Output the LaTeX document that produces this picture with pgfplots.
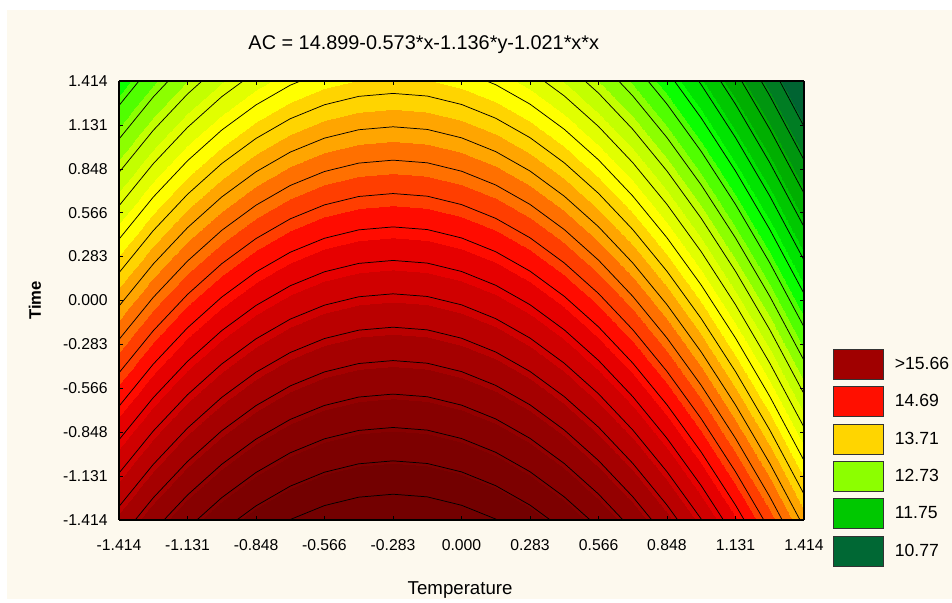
\documentclass[border=0pt]{standalone}
\usepackage{pgfplots}
\pgfplotsset{compat=1.18}
\usepackage{pgfplotstable}
\usepackage{fontspec}
\setmainfont{Liberation Sans}

\definecolor{cream}{RGB}{253,249,238}
\definecolor{lg1}{RGB}{160,0,0}
\definecolor{lg2}{RGB}{255,15,0}
\definecolor{lg3}{RGB}{255,213,0}
\definecolor{lg4}{RGB}{140,255,0}
\definecolor{lg5}{RGB}{0,200,0}
\definecolor{lg6}{RGB}{0,104,52}

\pgfplotstableread{
x y z
-1.414 -1.414 15.2741
-1.2726 -1.414 15.5810
-1.1312 -1.414 15.8470
-0.9898 -1.414 16.0722
-0.8484 -1.414 16.2565
-0.707 -1.414 16.4001
-0.5656 -1.414 16.5028
-0.4242 -1.414 16.5646
-0.2828 -1.414 16.5857
-0.1414 -1.414 16.5659
0 -1.414 16.5053
0.1414 -1.414 16.4039
0.2828 -1.414 16.2616
0.4242 -1.414 16.0785
0.5656 -1.414 15.8546
0.707 -1.414 15.5898
0.8484 -1.414 15.2843
0.9898 -1.414 14.9379
1.1312 -1.414 14.5506
1.2726 -1.414 14.1226
1.414 -1.414 13.6537
-1.414 0 13.6678
-1.2726 0 13.9747
-1.1312 0 14.2407
-0.9898 0 14.4659
-0.8484 0 14.6502
-0.707 0 14.7938
-0.5656 0 14.8965
-0.4242 0 14.9583
-0.2828 0 14.9794
-0.1414 0 14.9596
0 0 14.8990
0.1414 0 14.7976
0.2828 0 14.6553
0.4242 0 14.4722
0.5656 0 14.2483
0.707 0 13.9835
0.8484 0 13.6780
0.9898 0 13.3316
1.1312 0 12.9443
1.2726 0 12.5163
1.414 0 12.0474
-1.414 1.414 12.0615
-1.2726 1.414 12.3684
-1.1312 1.414 12.6344
-0.9898 1.414 12.8596
-0.8484 1.414 13.0439
-0.707 1.414 13.1875
-0.5656 1.414 13.2902
-0.4242 1.414 13.3520
-0.2828 1.414 13.3731
-0.1414 1.414 13.3533
0 1.414 13.2927
0.1414 1.414 13.1913
0.2828 1.414 13.0490
0.4242 1.414 12.8659
0.5656 1.414 12.6420
0.707 1.414 12.3772
0.8484 1.414 12.0717
0.9898 1.414 11.7253
1.1312 1.414 11.3380
1.2726 1.414 10.9100
1.414 1.414 10.4411
}\surfdata

\pgfplotstableread{
x l0 l1 l2 l3 l4 l5 l6 l7 l8 l9 l10 l11 l12 l13 l14 l15 l16 l17 l18 l19 l20 l21 l22 l23
-1.414 2.547 2.332 2.117 1.901 1.686 1.471 1.256 1.040 0.825 0.610 0.395 0.179 -0.036 -0.251 -0.466 -0.681 -0.897 -1.112 -1.327 -1.542 -1.758 -1.973 -2.188 -2.403
-1.2726 2.818 2.603 2.388 2.172 1.957 1.742 1.527 1.311 1.096 0.881 0.666 0.450 0.235 0.020 -0.195 -0.410 -0.626 -0.841 -1.056 -1.271 -1.487 -1.702 -1.917 -2.132
-1.1312 3.052 2.837 2.622 2.406 2.191 1.976 1.761 1.545 1.330 1.115 0.900 0.684 0.469 0.254 0.039 -0.176 -0.392 -0.607 -0.822 -1.037 -1.253 -1.468 -1.683 -1.898
-0.9898 3.250 3.035 2.820 2.604 2.389 2.174 1.959 1.743 1.528 1.313 1.098 0.882 0.667 0.452 0.237 0.022 -0.194 -0.409 -0.624 -0.839 -1.055 -1.270 -1.485 -1.700
-0.8484 3.412 3.197 2.982 2.766 2.551 2.336 2.121 1.905 1.690 1.475 1.260 1.044 0.829 0.614 0.399 0.184 -0.032 -0.247 -0.462 -0.677 -0.893 -1.108 -1.323 -1.538
-0.707 3.539 3.324 3.109 2.893 2.678 2.463 2.248 2.032 1.817 1.602 1.387 1.171 0.956 0.741 0.526 0.311 0.095 -0.120 -0.335 -0.550 -0.766 -0.981 -1.196 -1.411
-0.5656 3.629 3.414 3.199 2.983 2.768 2.553 2.338 2.122 1.907 1.692 1.477 1.261 1.046 0.831 0.616 0.401 0.185 -0.030 -0.245 -0.460 -0.676 -0.891 -1.106 -1.321
-0.4242 3.683 3.468 3.253 3.037 2.822 2.607 2.392 2.176 1.961 1.746 1.531 1.315 1.100 0.885 0.670 0.455 0.239 0.024 -0.191 -0.406 -0.622 -0.837 -1.052 -1.267
-0.2828 3.702 3.487 3.272 3.056 2.841 2.626 2.411 2.195 1.980 1.765 1.550 1.334 1.119 0.904 0.689 0.474 0.258 0.043 -0.172 -0.387 -0.603 -0.818 -1.033 -1.248
-0.1414 3.685 3.470 3.255 3.039 2.824 2.609 2.394 2.178 1.963 1.748 1.533 1.317 1.102 0.887 0.672 0.457 0.241 0.026 -0.189 -0.404 -0.620 -0.835 -1.050 -1.265
0 3.631 3.416 3.201 2.985 2.770 2.555 2.340 2.124 1.909 1.694 1.479 1.263 1.048 0.833 0.618 0.403 0.187 -0.028 -0.243 -0.458 -0.674 -0.889 -1.104 -1.319
0.1414 3.542 3.327 3.112 2.896 2.681 2.466 2.251 2.035 1.820 1.605 1.390 1.174 0.959 0.744 0.529 0.314 0.098 -0.117 -0.332 -0.547 -0.763 -0.978 -1.193 -1.408
0.2828 3.417 3.202 2.987 2.771 2.556 2.341 2.126 1.910 1.695 1.480 1.265 1.049 0.834 0.619 0.404 0.189 -0.027 -0.242 -0.457 -0.672 -0.888 -1.103 -1.318 -1.533
0.4242 3.255 3.040 2.825 2.609 2.394 2.179 1.964 1.748 1.533 1.318 1.103 0.887 0.672 0.457 0.242 0.027 -0.189 -0.404 -0.619 -0.834 -1.050 -1.265 -1.480 -1.695
0.5656 3.058 2.843 2.628 2.412 2.197 1.982 1.767 1.551 1.336 1.121 0.906 0.690 0.475 0.260 0.045 -0.170 -0.386 -0.601 -0.816 -1.031 -1.247 -1.462 -1.677 -1.892
0.707 2.825 2.610 2.395 2.179 1.964 1.749 1.534 1.318 1.103 0.888 0.673 0.457 0.242 0.027 -0.188 -0.403 -0.619 -0.834 -1.049 -1.264 -1.480 -1.695 -1.910 -2.125
0.8484 2.556 2.341 2.126 1.910 1.695 1.480 1.265 1.049 0.834 0.619 0.404 0.188 -0.027 -0.242 -0.457 -0.672 -0.888 -1.103 -1.318 -1.533 -1.749 -1.964 -2.179 -2.394
0.9898 2.251 2.036 1.821 1.605 1.390 1.175 0.960 0.744 0.529 0.314 0.099 -0.117 -0.332 -0.547 -0.762 -0.977 -1.193 -1.408 -1.623 -1.838 -2.054 -2.269 -2.484 -2.699
1.1312 1.910 1.695 1.480 1.264 1.049 0.834 0.619 0.403 0.188 -0.027 -0.242 -0.458 -0.673 -0.888 -1.103 -1.318 -1.534 -1.749 -1.964 -2.179 -2.395 -2.610 -2.825 -3.040
1.2726 1.534 1.319 1.104 0.888 0.673 0.458 0.243 0.027 -0.188 -0.403 -0.618 -0.834 -1.049 -1.264 -1.479 -1.694 -1.910 -2.125 -2.340 -2.555 -2.771 -2.986 -3.201 -3.416
1.414 1.121 0.906 0.691 0.475 0.260 0.045 -0.170 -0.386 -0.601 -0.816 -1.031 -1.247 -1.462 -1.677 -1.892 -2.107 -2.323 -2.538 -2.753 -2.968 -3.184 -3.399 -3.614 -3.829
}\contourdata

\begin{document}
\begin{tikzpicture}
\fill[white] (0,0) rectangle (714pt,449.25pt);
\fill[cream] (5.25pt,0) rectangle (714pt,441.75pt);
\begin{axis}[
  at={(89.25pt,59.25pt)}, anchor=south west,
  scale only axis, width=513.75pt, height=329.25pt,
  view={0}{90},
  xmin=-1.414, xmax=1.414, ymin=-1.414, ymax=1.414,
  xtick={-1.414,-1.131,-0.848,-0.566,-0.283,0,0.283,0.566,0.848,1.131,1.414},
  xticklabels={-1.414,-1.131,-0.848,-0.566,-0.283,0.000,0.283,0.566,0.848,1.131,1.414},
  ytick={-1.414,-1.131,-0.848,-0.566,-0.283,0,0.283,0.566,0.848,1.131,1.414},
  yticklabels={-1.414,-1.131,-0.848,-0.566,-0.283,0.000,0.283,0.566,0.848,1.131,1.414},
  ztick=\empty,
  minor tick num=1,
  tick align=inside,
  major tick length=3pt, minor tick length=2pt,
  tick style={black, line width=0.5pt},
  axis line style={black, line width=0.8pt},
  ticklabel style={font=\fontsize{11.8}{13}\selectfont},
  xticklabel style={yshift=-11pt},
  yticklabel style={xshift=-5pt},
  colormap={statmap}{
    rgb255=(0,100,50) rgb255=(0,100,50) rgb255=(0,125,35) rgb255=(0,150,15)
    rgb255=(0,175,0) rgb255=(0,200,0) rgb255=(0,228,0) rgb255=(10,255,0)
    rgb255=(80,255,0) rgb255=(140,255,0) rgb255=(195,255,0) rgb255=(225,255,0)
    rgb255=(255,255,0) rgb255=(255,212,0) rgb255=(255,165,0) rgb255=(255,112,0)
    rgb255=(255,62,0) rgb255=(255,12,0) rgb255=(230,0,0) rgb255=(208,0,0)
    rgb255=(186,0,0) rgb255=(165,0,0) rgb255=(148,0,0) rgb255=(135,0,0)
    rgb255=(125,0,0) rgb255=(115,0,0) rgb255=(115,0,0)},
  colormap access=piecewise constant,
  point meta min=10.285, point meta max=16.642,
  every axis title/.style={at={(axis description cs:0.445,1.082)}, anchor=center, font=\fontsize{14.9}{17}\selectfont},
  title={AC = 14.899-0.573*x-1.136*y-1.021*x*x},
  every axis x label/.style={at={(axis description cs:0.498,-0.159)}, anchor=center, font=\fontsize{14}{16}\selectfont},
  xlabel={Temperature},
  every axis y label/.style={at={(axis description cs:-0.1226,0.5)}, anchor=center, rotate=90, font=\bfseries\fontsize{12.5}{14}\selectfont},
  ylabel={Time},
  legend style={at={(axis description cs:1.0423,0.3895)}, anchor=north west,
    draw=none, fill=none, inner sep=0pt, outer sep=0pt, row sep=4.9pt, column sep=6.3pt,
    font=\fontsize{13.2}{15}\selectfont, cells={anchor=west}},
]
\addplot3[surf, shader=interp, mesh/rows=3, mesh/cols=21, point meta=z, forget plot] table {\surfdata};
\pgfplotsinvokeforeach{0,...,23}{
  \addplot[black, line width=0.55pt, no marks, forget plot] table[x=x, y=l#1] {\contourdata};
}
\addlegendimage{legend image code/.code={\draw[fill=lg1, draw=black!80, line width=0.6pt] (0pt,-11.25pt) rectangle (37.5pt,11.25pt);}}
\addlegendentry{>15.66}
\addlegendimage{legend image code/.code={\draw[fill=lg2, draw=black!80, line width=0.6pt] (0pt,-11.25pt) rectangle (37.5pt,11.25pt);}}
\addlegendentry{14.69}
\addlegendimage{legend image code/.code={\draw[fill=lg3, draw=black!80, line width=0.6pt] (0pt,-11.25pt) rectangle (37.5pt,11.25pt);}}
\addlegendentry{13.71}
\addlegendimage{legend image code/.code={\draw[fill=lg4, draw=black!80, line width=0.6pt] (0pt,-11.25pt) rectangle (37.5pt,11.25pt);}}
\addlegendentry{12.73}
\addlegendimage{legend image code/.code={\draw[fill=lg5, draw=black!80, line width=0.6pt] (0pt,-11.25pt) rectangle (37.5pt,11.25pt);}}
\addlegendentry{11.75}
\addlegendimage{legend image code/.code={\draw[fill=lg6, draw=black!80, line width=0.6pt] (0pt,-11.25pt) rectangle (37.5pt,11.25pt);}}
\addlegendentry{10.77}
\end{axis}
\end{tikzpicture}
\end{document}
